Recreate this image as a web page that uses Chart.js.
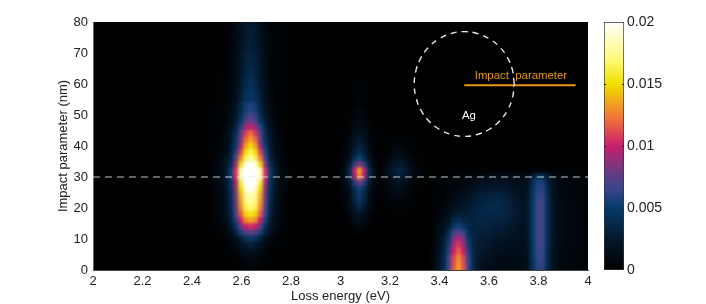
<!DOCTYPE html>
<html><head><meta charset="utf-8">
<style>
html,body{margin:0;padding:0;background:#fff;width:706px;height:304px;overflow:hidden}
#heatWrap{position:absolute;left:93px;top:22px;width:495px;height:248px;overflow:hidden;background:#000}
#heat{position:absolute;left:-12px;top:-12px;filter:blur(1.6px)}
#axes{position:absolute;left:0;top:0}
#bar{position:absolute;left:590px;top:0}
</style>
<script src="https://cdn.jsdelivr.net/npm/chart.js@4"></script>
</head><body>
<div id="heatWrap"><canvas id="heat" width="519" height="272"></canvas></div>
<canvas id="axes" width="706" height="304"></canvas>
<canvas id="bar" width="116" height="304"></canvas>
<script>
const xTickValues=[2,2.2,2.4,2.6,2.8,3,3.2,3.4,3.6,3.8,4];
const yTickValues=[0,10,20,30,40,50,60,70,80];
const barTickValues=[0,0.005,0.01,0.015,0.02];
const xTitle='Loss energy (eV)';
const yTitle='Impact parameter (nm)';
const colorStops=[[0,'#000000'],[0.0025,'#04182c'],[0.005,'#053a68'],[0.0065,'#38468a'],[0.008,'#6c3a80'],[0.01,'#c81e6e'],[0.012,'#ee6a40'],[0.0135,'#f2a41c'],[0.015,'#efe000'],[0.017,'#fff97a'],[0.02,'#ffffff']];
// Loss probability, in units of 1e-4
const p1Xs=[2.48,2.50,2.52,2.54,2.56,2.58,2.60,2.62,2.64,2.66,2.68,2.70,2.72,2.74,2.76,2.78,2.80];
const p1Ys=[80,76,72,68,64,60,56,52,50,48,46,44,42,40,38,36,34,32,30,28,26,24,22,20,18,16,14,12,10,8,6,4,2,0];
const p1Vals=[
[0,1,1,2,4,9,16,23,26,23,16,9,4,2,1,1,0],
[0,1,1,2,5,10,17,25,28,25,17,10,5,2,1,1,0],
[0,1,1,2,5,11,19,27,31,27,19,11,5,2,1,1,0],
[0,1,1,3,6,12,20,30,34,30,20,12,6,3,1,1,0],
[0,1,2,3,6,13,23,33,38,33,23,13,6,3,2,1,0],
[0,1,2,3,7,14,25,37,42,37,25,14,7,3,2,1,0],
[0,1,2,4,8,16,29,42,48,42,29,16,8,4,2,1,0],
[1,1,3,5,10,20,36,53,60,53,36,20,10,5,3,1,1],
[1,1,3,5,12,23,41,60,68,60,41,23,12,5,3,1,1],
[1,2,3,6,14,27,48,70,80,70,48,27,14,6,3,2,1],
[1,2,4,8,17,34,60,88,100,88,60,34,17,8,4,2,1],
[1,2,5,10,21,41,73,107,122,107,73,41,21,10,5,2,1],
[1,3,5,11,23,46,81,119,135,119,81,46,23,11,5,3,1],
[2,3,6,12,26,51,90,132,150,132,90,51,26,12,6,3,2],
[2,3,7,13,28,59,109,149,165,149,109,59,28,13,7,3,2],
[2,5,9,16,34,69,125,164,178,164,125,69,34,16,9,5,2],
[2,6,10,21,41,86,148,193,205,193,148,86,41,21,10,6,2],
[3,7,12,25,52,105,181,232,245,232,181,105,52,25,12,7,3],
[3,7,12,25,52,105,181,232,245,232,181,105,52,25,12,7,3],
[2,7,11,22,45,92,159,204,215,204,159,92,45,22,11,7,2],
[2,6,10,20,42,85,147,188,198,188,147,85,42,20,10,6,2],
[2,6,9,19,39,80,137,176,185,176,137,80,39,19,9,6,2],
[2,5,9,18,38,77,133,171,180,171,133,77,38,18,9,5,2],
[2,5,9,17,36,73,126,162,170,162,126,73,36,17,9,5,2],
[2,5,8,16,33,67,115,147,155,147,115,67,33,16,8,5,2],
[1,4,7,14,28,58,100,128,135,128,100,58,28,14,7,4,1],
[1,3,5,11,22,45,78,100,105,100,78,45,22,11,5,3,1],
[1,2,4,8,16,32,56,71,75,71,56,32,16,8,4,2,1],
[0,1,2,4,8,16,29,42,48,42,29,16,8,4,2,1,0],
[0,1,1,2,5,10,18,26,30,26,18,10,5,2,1,1,0],
[0,0,1,1,3,6,11,16,18,16,11,6,3,1,1,0,0],
[0,0,0,1,2,3,6,9,10,9,6,3,2,1,0,0,0],
[0,0,0,0,1,2,4,5,6,5,4,2,1,0,0,0,0],
[0,0,0,0,1,1,2,3,3,3,2,1,1,0,0,0,0]];
const p2Xs=[3.00,3.02,3.04,3.06,3.08,3.10,3.12,3.14,3.16];
const p2Ys=[60,54,50,46,44,42,40,38,36,34,32,30,28,26,24,22,20,18,16,14,12];
const p2Vals=[
[0,0,1,2,3,2,1,0,0],
[0,0,1,3,5,3,1,0,0],
[0,1,2,6,8,6,2,1,0],
[1,1,4,10,14,10,4,1,1],
[1,2,6,14,19,14,6,2,1],
[1,3,8,19,27,19,8,3,1],
[1,3,10,23,32,23,10,3,1],
[1,4,12,29,40,29,12,4,1],
[2,6,17,40,55,40,17,6,2],
[3,9,26,61,85,61,26,9,3],
[4,14,40,97,135,97,40,14,4],
[4,13,38,90,125,90,38,13,4],
[2,8,24,58,80,58,24,8,2],
[2,6,17,40,55,40,17,6,2],
[2,5,15,36,50,36,15,5,2],
[1,4,13,32,44,32,13,4,1],
[1,4,11,25,35,25,11,4,1],
[1,2,7,16,22,16,7,2,1],
[0,2,5,12,16,12,5,2,0],
[0,1,3,7,10,7,3,1,0],
[0,0,1,2,3,2,1,0,0]];
const p3Xs=[3.18,3.20,3.22,3.24,3.26,3.28,3.30,3.32];
const p3Ys=[44,42,40,38,36,34,32,30,28,26,24,22,20,18];
const p3Vals=[
[0,1,1,2,1,1,0,0],
[1,2,3,4,3,2,1,0],
[2,3,5,7,5,3,2,1],
[3,6,10,12,10,6,3,2],
[5,9,15,18,15,9,5,2],
[8,14,22,26,22,14,8,4],
[11,19,29,34,29,19,11,5],
[8,16,24,29,24,16,8,5],
[5,10,15,18,15,10,5,3],
[4,8,11,14,11,8,4,2],
[3,6,9,11,9,6,3,2],
[2,4,5,6,5,4,2,1],
[1,2,3,4,3,2,1,1],
[0,1,2,2,2,1,0,0]];
const p4Xs=[3.38,3.40,3.42,3.44,3.46,3.48,3.50,3.52,3.54,3.56,3.58,3.60,3.62,3.64,3.66,3.68,3.70,3.72,3.74,3.76,3.78,3.80,3.82,3.84,3.86,3.88,3.90,3.92,3.94,3.96,3.98];
const p4Ys=[32,30,28,26,24,22,20,18,16,14,12,10,8,6,4,2,0];
const p4Vals=[
[0,0,1,1,1,1,2,2,2,2,2,3,3,3,3,3,3,3,3,3,5,6,6,5,3,3,2,2,2,2,2],
[1,1,2,3,4,5,6,7,9,11,12,13,14,14,14,14,13,12,11,15,32,42,42,28,14,9,7,6,5,5,4],
[1,2,3,4,5,6,8,10,13,16,18,19,20,20,19,19,17,15,14,19,40,56,56,35,18,10,8,7,6,5,5],
[1,3,3,5,7,9,12,15,18,21,24,25,26,26,25,24,20,18,16,21,44,60,60,38,19,11,9,7,6,6,5],
[1,3,4,6,9,12,16,20,23,27,30,31,32,32,30,28,24,21,18,23,46,63,63,40,20,12,9,8,7,6,5],
[2,4,5,8,12,16,20,23,27,31,34,35,36,36,35,32,27,23,19,24,48,66,66,42,21,12,10,8,7,6,6],
[2,5,7,11,17,21,24,28,31,34,36,38,38,38,36,33,28,24,20,25,50,68,68,43,22,13,11,9,8,7,6],
[3,6,9,15,24,28,29,30,32,35,36,36,36,36,35,33,28,24,20,25,50,68,68,43,22,13,11,9,8,7,6],
[3,8,12,21,34,40,37,33,33,35,35,35,33,33,32,30,27,23,20,25,50,68,68,43,22,13,11,9,8,7,6],
[4,10,16,28,47,55,48,36,33,33,33,32,30,29,28,26,24,21,19,24,50,68,68,43,22,13,10,9,8,7,6],
[5,12,21,38,64,75,65,43,33,31,30,30,27,26,25,23,21,19,18,24,50,68,68,43,22,13,10,9,8,7,6],
[5,15,27,48,82,96,82,50,33,30,28,27,24,23,22,20,19,17,16,23,49,67,67,42,21,13,10,9,8,7,6],
[6,16,30,54,92,108,92,55,34,28,26,24,21,20,19,17,17,15,15,22,48,66,66,42,21,12,10,8,7,7,6],
[6,18,33,59,100,118,100,60,36,27,23,21,18,17,16,15,14,14,14,21,47,65,65,41,20,12,9,8,7,6,6],
[6,19,36,64,109,128,109,64,37,25,20,18,16,14,13,13,13,13,13,20,46,64,64,40,20,11,9,8,7,6,5],
[7,20,37,66,112,132,112,66,38,23,17,16,14,12,11,11,11,11,11,19,44,62,62,39,19,11,8,7,6,6,5],
[7,20,38,68,115,135,115,68,38,22,15,14,12,10,9,9,9,9,10,18,42,60,60,38,18,10,8,7,6,6,5]];
// Annotations
const sliceX=[2,4], sliceY=[30,30];
const probeX=[3.5,3.95], probeY=[59.6,59.6];
const ringX=[3.702,3.695,3.675,3.643,3.601,3.552,3.5,3.448,3.399,3.357,3.325,3.305,3.298,3.305,3.325,3.357,3.399,3.448,3.5,3.552,3.601,3.643,3.675,3.695,3.702];
const ringY=[60,64.4,68.45,71.95,74.6,76.3,76.9,76.3,74.6,71.95,68.45,64.4,60,55.6,51.55,48.05,45.4,43.7,43.1,43.7,45.4,48.05,51.55,55.6,60];
const labelTexts=['Impact  parameter','Ag'];
const labelXs=[3.729,3.519];
const labelYs=[62.7,49.7];
const labelColors=['#e8960c','#ffffff'];

function hex(c){return [1,3,5].map(i=>parseInt(c.substr(i,2),16));}
function colorOf(v){
  if(v<=0)return '#000000';
  for(let i=1;i<colorStops.length;i++){
    if(v<=colorStops[i][0]){
      const a=colorStops[i-1],b=colorStops[i],t=(v-a[0])/(b[0]-a[0]);
      const A=hex(a[1]),B=hex(b[1]);
      return 'rgb('+A.map((n,k)=>Math.round(n+(B[k]-n)*t)).join(',')+')';
    }
  }
  return '#ffffff';
}
function cells(xs,ys,vals){
  const out=[];
  xs.forEach((x,c)=>{
    ys.forEach((y,r)=>{
      const hi=r===0?y+(ys[0]-ys[1])/2:(y+ys[r-1])/2;
      const lo=r===ys.length-1?(y===0?-4:y-1):(y+ys[r+1])/2;
      out.push({x:x,y:[lo,hi],v:vals[r][c]*1e-4});
    });
  });
  return out;
}
const heatSet=(xs,ys,vals)=>({
  data:cells(xs,ys,vals),
  backgroundColor:ctx=>colorOf(ctx.raw?ctx.raw.v:0),
  borderWidth:0,barThickness:6,grouped:false,clip:12
});
new Chart(document.getElementById('heat'),{
  type:'bar',
  data:{datasets:[heatSet(p1Xs,p1Ys,p1Vals),heatSet(p2Xs,p2Ys,p2Vals),heatSet(p3Xs,p3Ys,p3Vals),heatSet(p4Xs,p4Ys,p4Vals)]},
  options:{responsive:false,animation:false,devicePixelRatio:1,
    layout:{padding:12},
    plugins:{legend:{display:false},tooltip:{enabled:false}},
    scales:{
      x:{type:'linear',min:2,max:4,offset:false,display:false},
      y:{type:'linear',min:0,max:80,display:false}
    }}
});
const textFont='"Liberation Sans",Arial,sans-serif';
const pts=(xs,ys)=>xs.map((x,i)=>({x:x,y:ys[i]}));
const labelPlugin={id:'labels',afterDatasetsDraw(c){
  const ctx=c.ctx;ctx.save();
  ctx.font='11.4px '+textFont;ctx.textAlign='center';ctx.textBaseline='middle';
  labelTexts.forEach((t,i)=>{
    ctx.fillStyle=labelColors[i];
    ctx.fillText(t,c.scales.x.getPixelForValue(labelXs[i]),c.scales.y.getPixelForValue(labelYs[i]));
  });
  ctx.restore();
}};
new Chart(document.getElementById('axes'),{
  type:'scatter',
  data:{datasets:[
    {data:pts(sliceX,sliceY),showLine:true,pointRadius:0,borderColor:'rgba(225,235,235,0.85)',borderWidth:1.2,borderDash:[7,5]},
    {data:pts(ringX,ringY),showLine:true,pointRadius:0,borderColor:'#e8e8e8',borderWidth:1.4,borderDash:[6,5],tension:0.4},
    {data:pts(probeX,probeY),showLine:true,pointRadius:0,borderColor:'#e8960c',borderWidth:2}
  ]},
  plugins:[labelPlugin],
  options:{responsive:false,animation:false,devicePixelRatio:1,
    layout:{padding:{left:56,right:118,top:22,bottom:0}},
    plugins:{legend:{display:false},tooltip:{enabled:false}},
    scales:{
      x:{type:'linear',min:2,max:4,
        afterBuildTicks:s=>{s.ticks=xTickValues.map(value=>({value}));},
        afterFit:s=>{s.height=34;},
        grid:{display:false,drawTicks:false},border:{color:'#444'},
        ticks:{autoSkip:false,maxRotation:0,padding:4,color:'#222',font:{family:textFont,size:13},callback:v=>String(+v.toFixed(1))},
        title:{display:true,text:xTitle,color:'#222',font:{family:textFont,size:13},padding:{top:0,bottom:0}}},
      y:{type:'linear',min:0,max:80,
        afterBuildTicks:s=>{s.ticks=yTickValues.map(value=>({value}));},
        afterFit:s=>{s.width=37;},
        grid:{display:false,drawTicks:false},border:{color:'#666'},
        ticks:{autoSkip:false,padding:5,color:'#222',font:{family:textFont,size:13},callback:v=>String(v)},
        title:{display:true,text:yTitle,color:'#222',font:{family:textFont,size:13},padding:{top:0,bottom:0}}}
    }}
});
const barTickPlugin={id:'barTicks',afterDatasetsDraw(c){
  const a=c.chartArea,ctx=c.ctx;ctx.save();ctx.strokeStyle='#222';ctx.lineWidth=1;
  barTickValues.slice(1,-1).forEach(v=>{
    const y=Math.round(c.scales.y.getPixelForValue(v))+0.5;
    ctx.beginPath();ctx.moveTo(a.left,y);ctx.lineTo(a.left+2,y);ctx.moveTo(a.right-2,y);ctx.lineTo(a.right,y);ctx.stroke();
  });
  ctx.restore();
}};
new Chart(document.getElementById('bar'),{
  type:'bar',
  data:{labels:[''],datasets:[{
    data:[[barTickValues[0],barTickValues[barTickValues.length-1]]],
    barPercentage:1,categoryPercentage:1,borderWidth:1,borderColor:'#333',borderSkipped:false,
    backgroundColor:ctx=>{
      const a=ctx.chart.chartArea;
      if(!a)return '#000';
      const g=ctx.chart.ctx.createLinearGradient(0,a.bottom,0,a.top);
      colorStops.forEach(s=>g.addColorStop(s[0]/0.02,s[1]));
      return g;
    }}]},
  plugins:[barTickPlugin],
  options:{responsive:false,animation:false,devicePixelRatio:1,
    layout:{padding:{left:14,right:0,top:22,bottom:34}},
    plugins:{legend:{display:false},tooltip:{enabled:false}},
    scales:{
      x:{display:false,offset:true},
      y:{type:'linear',position:'right',min:0,max:0.02,
        afterBuildTicks:s=>{s.ticks=barTickValues.map(value=>({value}));},
        afterFit:s=>{s.width=82;},
        grid:{display:false,drawTicks:false},border:{display:false},
        ticks:{autoSkip:false,padding:3,color:'#222',font:{family:textFont,size:14},callback:v=>String(v)}}
    }}
});
</script>
</body></html>
